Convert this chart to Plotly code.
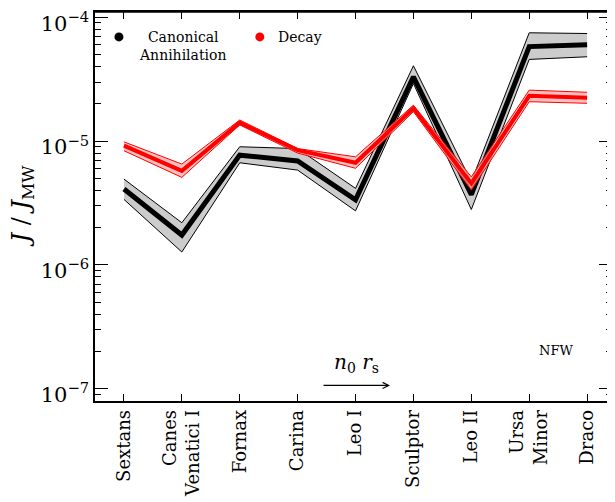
import plotly.graph_objects as go

# ---- data ----
galaxies = ["Sextans", "Canes<br>Venatici I", "Fornax", "Carina", "Leo I",
            "Sculptor", "Leo II", "Ursa<br>Minor", "Draco"]

ann_mid = [4.1e-6, 1.74e-6, 7.7e-6, 6.9e-6, 3.35e-6, 3.3e-5, 3.7e-6, 5.8e-5, 6.0e-5]
ann_hi = [4.93e-6, 2.19e-6, 9.0e-6, 8.7e-6, 4.15e-6, 4.06e-5, 4.7e-6, 7.5e-5, 7.4e-5]
ann_lo = [3.38e-6, 1.27e-6, 6.68e-6, 5.83e-6, 2.73e-6, 2.92e-5, 2.8e-6, 4.57e-5, 4.8e-5]

dec_mid = [9.2e-6, 5.75e-6, 1.41e-5, 8.45e-6, 6.68e-6, 1.84e-5, 4.55e-6, 2.32e-5, 2.24e-5]
dec_hi = [9.86e-6, 6.52e-6, 1.48e-5, 8.7e-6, 7.46e-6, 1.95e-5, 5.14e-6, 2.58e-5, 2.48e-5]
dec_lo = [8.36e-6, 5.09e-6, 1.35e-5, 8.0e-6, 6.03e-6, 1.73e-5, 4.02e-6, 2.08e-5, 2.02e-5]

y_major = [1e-7, 1e-6, 1e-5, 1e-4]
y_major_text = ["10<sup>−7</sup>", "10<sup>−6</sup>", "10<sup>−5</sup>", "10<sup>−4</sup>"]

FONT = "DejaVu Serif"
xs = list(range(len(galaxies)))

fig = go.Figure()

def band(lo, hi, mid, edge, fillc, lw):
    fig.add_trace(go.Scatter(x=xs, y=lo, mode="lines", line=dict(color=edge, width=1),
                             showlegend=False, hoverinfo="skip"))
    fig.add_trace(go.Scatter(x=xs, y=hi, mode="lines", line=dict(color=edge, width=1),
                             fill="tonexty", fillcolor=fillc, showlegend=False, hoverinfo="skip"))
    fig.add_trace(go.Scatter(x=xs, y=mid, mode="lines", line=dict(color=edge, width=lw),
                             showlegend=False))

band(ann_lo, ann_hi, ann_mid, "black", "rgb(204,204,204)", 5)
band(dec_lo, dec_hi, dec_mid, "red", "rgba(255,170,170,0.75)", 4)

minor_vals = [m * 10.0 ** k for k in range(-8, -3) for m in range(2, 10)]

fig.update_xaxes(
    tickmode="array", tickvals=xs, ticktext=galaxies, tickangle=-90,
    range=[-0.5, 8.43], showline=True, linecolor="black", linewidth=1.5,
    mirror="allticks", ticks="inside", ticklen=7, tickcolor="black", tickwidth=1,
    showgrid=False, zeroline=False, automargin=False,
    tickfont=dict(family=FONT, size=18, color="black"),
)
fig.update_yaxes(
    type="log", range=[-7.1, -3.957], tickmode="array", tickvals=y_major,
    ticktext=y_major_text, showline=True, linecolor="black", linewidth=1.5,
    mirror="allticks", ticks="inside", ticklen=13, tickcolor="black", tickwidth=1.2,
    showgrid=False, zeroline=False, automargin=False,
    ticklabeloverflow="allow", ticklabelshift=6,
    minor=dict(tickmode="array", tickvals=minor_vals, ticks="inside", ticklen=6,
               tickcolor="black", tickwidth=1, showgrid=False),
    tickfont=dict(family=FONT, size=21, color="black"),
)

annotations = [
    dict(text="<i>J</i> / <i>J</i><sub>MW</sub>", xref="paper", yref="paper",
         x=-0.141, y=0.50, textangle=-90, showarrow=False,
         font=dict(family=FONT, size=24, color="black"), xanchor="center", yanchor="middle"),
    dict(text="Canonical<br>Annihilation", xref="paper", yref="paper", x=0.1697, y=0.912,
         showarrow=False, align="center", font=dict(family=FONT, size=14, color="black"),
         xanchor="center", yanchor="middle"),
    dict(text="Decay", xref="paper", yref="paper", x=0.3966, y=0.936,
         showarrow=False, font=dict(family=FONT, size=14, color="black"),
         xanchor="center", yanchor="middle"),
    dict(text="NFW", xref="paper", yref="paper", x=0.892, y=0.129,
         showarrow=False, font=dict(family=FONT, size=13, color="black"),
         xanchor="center", yanchor="middle"),
    dict(text="<i>n</i><sub>0</sub> <i>r</i><sub>s</sub>", xref="paper", yref="paper",
         x=0.5066, y=0.0986, showarrow=False, font=dict(family=FONT, size=20, color="black"),
         xanchor="center", yanchor="middle"),
    dict(text="", xref="paper", yref="paper", x=0.5706, y=0.040, ax=-68, ay=0,
         showarrow=True, arrowhead=5, arrowsize=1, arrowwidth=1.2, arrowcolor="black"),
]

shapes = [
    dict(type="circle", xref="paper", yref="paper", xsizemode="pixel", ysizemode="pixel",
         xanchor=0.0463, yanchor=0.936, x0=-4.5, x1=4.5, y0=-4.5, y1=4.5,
         fillcolor="black", line=dict(width=0)),
    dict(type="circle", xref="paper", yref="paper", xsizemode="pixel", ysizemode="pixel",
         xanchor=0.3188, yanchor=0.936, x0=-4.5, x1=4.5, y0=-4.5, y1=4.5,
         fillcolor="red", line=dict(width=0)),
    # top frame edge of the plot box
    dict(type="line", xref="paper", yref="paper", x0=0, x1=1, y0=1, y1=1,
         line=dict(color="black", width=1.5), layer="above"),
]

# page body has an 8px default margin, so the figure is sized to fit the window
fig.update_layout(
    width=607, height=494, margin=dict(l=87, r=3, t=4, b=101),
    plot_bgcolor="white", paper_bgcolor="white", showlegend=False,
    annotations=annotations, shapes=shapes,
    font=dict(family=FONT, color="black"),
)

fig.write_html("out.html")
